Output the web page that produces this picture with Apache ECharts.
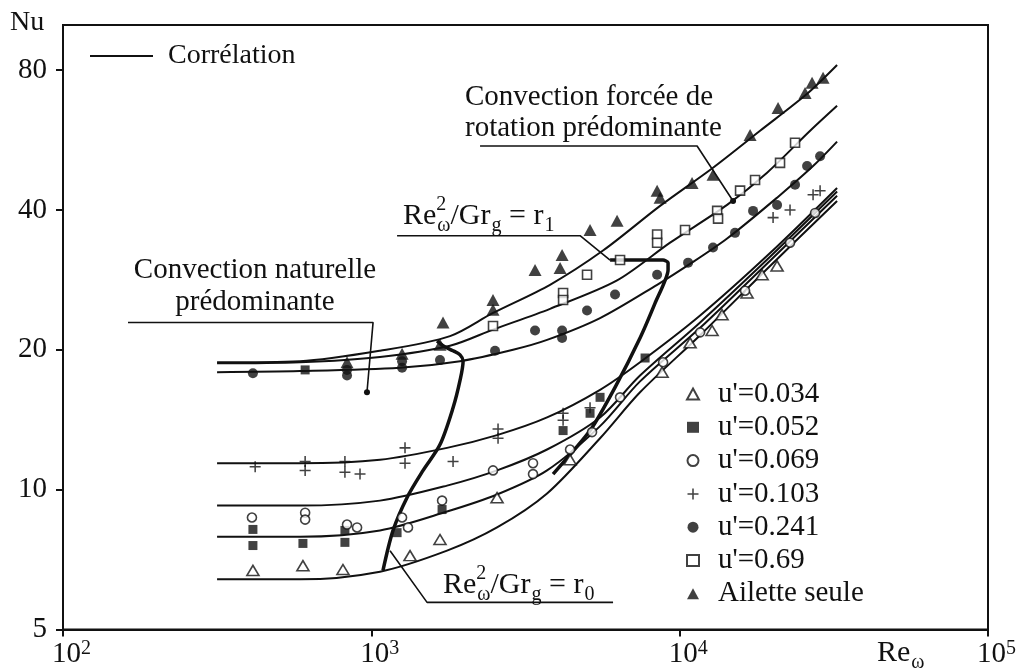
<!DOCTYPE html>
<html><head><meta charset="utf-8">
<script src="https://cdn.jsdelivr.net/npm/echarts@6/dist/echarts.min.js"></script>
<style>html,body{margin:0;padding:0;background:#fff}#chart{width:1023px;height:669px}</style>
</head><body><div id="chart"></div>
<script>
// ---- axis ticks ----
const xTicks = [100, 1000, 10000, 100000];
const xTickExponents = ['2', '3', '4', '5'];
const yTicks = [5, 10, 20, 40, 80];

// ---- correlation curves [Re, Nu] ----
const corrAilette = [[316,18.8],[587,18.9],[1067,19.9],[1800,21.4],[2481,24.0],[3798,27.6],[5642,32.7],[8640,40.8],[12830,49.3],[18230,59.2],[25900,71.1],[32400,82.0]];
const corr069b = [[316,18.7],[587,18.8],[1067,19.3],[1800,20.4],[2481,22.1],[3798,24.5],[6266,28.2],[9310,34.0],[14250,41.0],[19210,48.1],[26490,59.2],[32400,67.0]];
const corr241 = [[316,17.9],[587,18.0],[1239,18.3],[1940,18.9],[2882,20.0],[3715,21.0],[5518,23.4],[8450,27.6],[10810,30.6],[14250,34.7],[20700,42.5],[27080,49.7],[32400,56.1]];
const corr103 = [[316,11.4],[587,11.4],[1067,11.6],[1760,12.3],[2557,13.1],[3715,14.3],[5518,16.4],[7438,18.8],[11650,23.7],[19640,32.3],[32400,44.6]];
const corr069 = [[316,9.24],[587,9.24],[1067,9.47],[1760,10.2],[2557,11.0],[3715,12.2],[5518,14.3],[7438,17.6],[11650,22.9],[19640,31.7],[32400,43.8]];
const corr052 = [[316,7.92],[587,7.92],[1067,8.17],[1760,8.97],[2557,9.76],[3715,11.0],[5518,13.7],[7438,17.1],[11650,22.3],[19640,31.1],[32400,42.9]];
const corr034 = [[316,6.41],[587,6.41],[1067,6.66],[1760,7.39],[2557,8.29],[3715,9.81],[5518,12.9],[7438,16.2],[11650,21.5],[19640,30.3],[32400,41.8]];

// ---- regime boundaries and label leaders [Re, Nu] ----
const boundaryR0 = [[1091,6.70],[1176,8.17],[1305,9.61],[1472,11.0],[1670,12.5],[1841,15.0],[1940,17.2],[1984,18.9],[1940,19.5],[1841,19.9],[1708,20.4],[1634,20.9]];
const boundaryR1 = [[3885,10.8],[5121,13.4],[6172,16.6],[7438,21.2],[8322,25.2],[9170,29.7],[9170,30.8],[8836,31.2],[5947,31.2]];
const leaderR1 = [[1212,35.2],[4753,35.2],[5947,31.2]];
const leaderR0 = [[6081,5.72],[1516,5.72],[1150,7.39]];
const leaderNatural = [[162.5,22.9],[1013,22.9],[968,16.2]];
const leaderForced = [[2252,54.9],[11390,54.9],[14900,41.8]];

// ---- measurements [Re, Nu] ----
const pts034 = [[413,6.70],[600,6.86],[809,6.73],[1335,7.21],[1670,7.81],[2557,9.61],[4411,11.6],[8770,17.9],[10810,20.7],[12740,22.0],[13720,23.8],[16540,26.5],[18510,29.0],[20700,30.3]];
const pts052 = [[413,8.21],[413,7.58],[600,7.66],[610,18.1],[821,8.17],[821,7.70],[1212,8.08],[1696,9.06],[4187,13.4],[5121,14.6],[5518,15.8],[7723,19.2]];
const pts069 = [[410,8.71],[610,8.92],[610,8.62],[834,8.41],[899,8.29],[1258,8.71],[1315,8.29],[1696,9.47],[2481,11.0],[3345,11.4],[3345,10.8],[4411,12.2],[5198,13.3],[6407,15.8],[8836,18.8],[11650,21.8],[16300,26.8],[22800,34.0],[27490,39.4]];
const pts103 = [[420,11.2],[610,11.5],[610,11.0],[821,11.5],[821,10.9],[919,10.8],[1286,12.3],[1286,11.4],[1841,11.5],[2576,13.5],[2576,12.9],[4187,14.6],[4187,14.1],[5121,15.0],[20090,38.5],[22800,40.0],[27080,43.1],[28540,44.0]];
const pts241 = [[413,17.8],[834,18.1],[834,17.6],[1258,18.9],[1258,18.3],[1670,19.0],[2519,19.9],[3396,22.0],[4156,22.0],[4156,21.2],[5007,24.3],[6172,26.3],[8450,29.0],[10650,30.8],[12830,33.2],[15120,35.7],[17300,39.8],[20700,41.0],[23670,45.3],[25900,49.7],[28540,52.2]];
const pts069b = [[2481,22.5],[4187,26.5],[4187,25.6],[5007,29.0],[6407,31.2],[8450,35.4],[8450,34.0],[10410,36.2],[13230,39.8],[13320,38.3],[15700,44.0],[17560,46.4],[21160,50.5],[23670,55.8]];
const ptsAilette = [[834,18.8],[1258,19.6],[1670,20.5],[1708,22.9],[2481,25.6],[2481,24.4],[3396,29.7],[4094,30.0],[4156,32.0],[5121,36.2],[6266,37.9],[8450,44.0],[8640,42.5],[10970,45.7],[12830,47.6],[16920,58.0],[20850,66.3],[25510,71.4],[26880,75.1],[29180,77.0]];

const seriesNames = ["u'=0.034", "u'=0.052", "u'=0.069", "u'=0.103", "u'=0.241", "u'=0.69", "Ailette seule"];

// ---- styling ----
const FONT = '"Liberation Serif", "Times New Roman", serif';
const INK = '#111';
const PLUS = 'path://M4.3,0H5.7V4.3H10V5.7H5.7V10H4.3V5.7H0V4.3H4.3Z';

const ctx = document.createElement('canvas').getContext('2d');
function tw(t, s) { ctx.font = s + 'px ' + FONT; return ctx.measureText(t).width; }
function txt(t, x, y, size, align) {
  return { type: 'text', x: x, y: y, silent: true, z: 50,
    style: { text: t, fill: INK, fontSize: size, fontFamily: FONT,
      align: align || 'left', textAlign: align || 'left', verticalAlign: 'middle', textVerticalAlign: 'middle' } };
}
function mathLabel(x0, y, pieces, size, small) {
  const els = []; let x = x0;
  pieces.forEach(function (p) {
    if (p.n !== undefined) { els.push(txt(p.n, x, y, size)); x += tw(p.n, size); }
    else {
      let w = 0;
      if (p.sup !== undefined) { els.push(txt(p.sup, x, y - size * 0.38, small)); w = Math.max(w, tw(p.sup, small)); }
      if (p.sub !== undefined) { els.push(txt(p.sub, x + 1, y + size * 0.32, small)); w = Math.max(w, tw(p.sub, small) + 1); }
      x += w;
    }
  });
  return els;
}

function curve(data, width, smooth) {
  return { type: 'line', name: 'Corrélation', data: data, symbol: 'none', smooth: smooth,
    lineStyle: { color: INK, width: width }, itemStyle: { color: INK }, z: 3, silent: true };
}
function guide(data, width, smooth, dotAtEnd) {
  const d = data.map(function (v, i) {
    return (dotAtEnd && i === data.length - 1) ? { value: v, symbol: 'circle', symbolSize: 6 } : { value: v };
  });
  return { type: 'line', name: 'guide', data: d, symbol: 'none', showSymbol: true, smooth: smooth,
    lineStyle: { color: INK, width: width }, itemStyle: { color: INK }, z: 4, silent: true };
}
function marks(name, data, symbol, size, filled) {
  return { type: 'scatter', name: name, data: data, symbol: symbol, symbolSize: size, z: 5,
    itemStyle: filled ? { color: INK } : { color: '#fff', borderColor: INK, borderWidth: 1.6 } };
}

const chart = echarts.init(document.getElementById('chart'), null, { renderer: 'canvas' });

const graphics = []
  .concat([txt('Nu', 10, 23, 28)])
  .concat(mathLabel(877, 653, [{ n: 'Re' }, { sub: 'ω' }], 30, 20))
  .concat([txt('Convection forcée de', 465, 97, 29), txt('rotation prédominante', 465, 128, 29)])
  .concat([txt('Convection naturelle', 255, 270, 29, 'center'), txt('prédominante', 255, 302, 29, 'center')])
  .concat(mathLabel(403, 216, [{ n: 'Re' }, { sup: '2', sub: 'ω' }, { n: '/Gr' }, { sub: 'g' }, { n: ' = r' }, { sub: '1' }], 30, 20))
  .concat(mathLabel(443, 585, [{ n: 'Re' }, { sup: '2', sub: 'ω' }, { n: '/Gr' }, { sub: 'g' }, { n: ' = r' }, { sub: '0' }], 30, 20));

chart.setOption({
  animation: false,
  backgroundColor: '#fff',
  grid: { left: 63, right: 35, top: 25, bottom: 37, show: true, borderColor: INK, borderWidth: 2, backgroundColor: 'transparent' },
  legend: [
    { data: [{ name: 'Corrélation', icon: 'path://M0,0H63V2H0Z' }], left: 90, top: 40, padding: 0,
      itemWidth: 63, itemHeight: 2, selectedMode: false,
      textStyle: { fontFamily: FONT, fontSize: 28, color: INK, lineHeight: 32, padding: [0, 0, 0, 10] } },
    { data: seriesNames, orient: 'vertical', left: 686, top: 378, padding: 0,
      itemWidth: 12, itemHeight: 11, itemGap: 1.3, selectedMode: false,
      textStyle: { fontFamily: FONT, fontSize: 29, color: INK, lineHeight: 32, padding: [0, 0, 0, 14] } }
  ],
  xAxis: {
    type: 'log', logBase: 10, min: 100, max: 100000,
    axisLine: { lineStyle: { color: INK, width: 2 } },
    axisTick: { show: true, length: 7, lineStyle: { color: INK, width: 2 }, customValues: xTicks },
    minorTick: { show: false }, splitLine: { show: false },
    axisLabel: {
      customValues: xTicks, margin: 9, align: 'center', padding: [0, 0, 0, 17],
      formatter: function (v) {
        const i = xTicks.findIndex(function (t) { return Math.abs(Math.log10(t) - Math.log10(v)) < 1e-6; });
        return '{b|10}{s|' + (i >= 0 ? xTickExponents[i] : '') + '}';
      },
      rich: {
        b: { fontFamily: FONT, fontSize: 29, color: INK, lineHeight: 32 },
        s: { fontFamily: FONT, fontSize: 20, color: INK, lineHeight: 20, verticalAlign: 'top' }
      }
    }
  },
  yAxis: {
    type: 'log', logBase: 10, min: 5, max: 100,
    axisLine: { lineStyle: { color: INK, width: 2 } },
    axisTick: { show: true, length: 7, lineStyle: { color: INK, width: 2 }, customValues: yTicks },
    minorTick: { show: false }, splitLine: { show: false },
    axisLabel: { customValues: yTicks, margin: 16, fontFamily: FONT, fontSize: 29, color: INK }
  },
  graphic: graphics,
  series: [
    curve(corrAilette, 2, 0.3), curve(corr069b, 2, 0.3), curve(corr241, 2, 0.3),
    curve(corr103, 2, 0.3), curve(corr069, 2, 0.3), curve(corr052, 2, 0.3), curve(corr034, 2, 0.3),
    guide(boundaryR0, 3.5, 0.3, false), guide(boundaryR1, 3.5, 0.2, false),
    guide(leaderR1, 1.6, false, false), guide(leaderR0, 1.6, false, false),
    guide(leaderNatural, 1.6, false, true), guide(leaderForced, 1.6, false, true),
    marks(seriesNames[0], pts034, 'triangle', [12, 10], false),
    marks(seriesNames[1], pts052, 'rect', 9, true),
    marks(seriesNames[2], pts069, 'circle', 9, false),
    marks(seriesNames[3], pts103, PLUS, 11, true),
    marks(seriesNames[4], pts241, 'circle', 10, true),
    marks(seriesNames[5], pts069b, 'rect', 9, false),
    marks(seriesNames[6], ptsAilette, 'triangle', [13, 12], true)
  ]
});
</script>
</body></html>
